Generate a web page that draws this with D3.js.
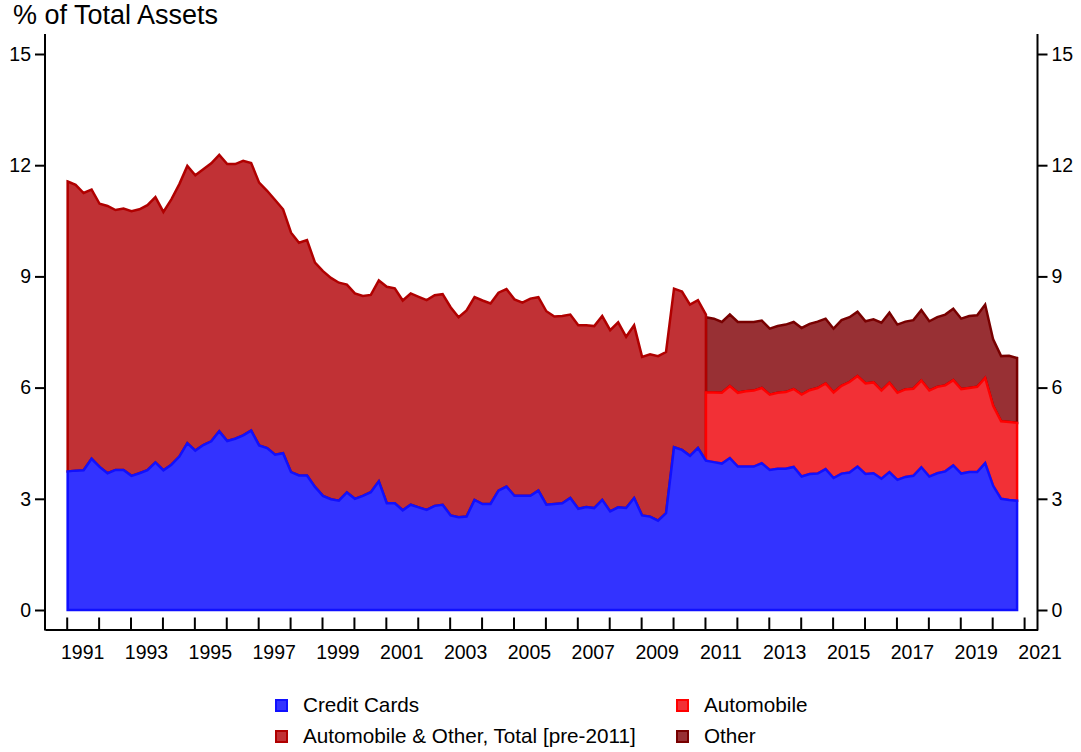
<!DOCTYPE html>
<meta charset="utf-8">
<style>
body { margin: 0; background: #fff; }
text { font-family: "Liberation Sans", Arial, sans-serif; fill: #000; }
</style>
<body>
<script src="https://cdn.jsdelivr.net/npm/d3@7/dist/d3.min.js"></script>
<script>

var width = 1081,
    height = 752;

// quarterly, from 1991Q1; pre-2011 total runs to the split, the breakdown starts at it
var firstYear = 1991,
    splitAt = 80;

var creditCards = [
  3.74, 3.76, 3.77, 4.08, 3.86, 3.69, 3.78, 3.78, 3.62, 3.69, 3.77, 3.98, 3.77, 3.92, 4.14, 4.50,
  4.30, 4.45, 4.55, 4.82, 4.56, 4.62, 4.71, 4.84, 4.44, 4.37, 4.19, 4.23, 3.72, 3.63, 3.63, 3.32,
  3.08, 2.99, 2.95, 3.17, 3.00, 3.08, 3.18, 3.47, 2.88, 2.88, 2.69, 2.84, 2.77, 2.70, 2.81, 2.84,
  2.55, 2.50, 2.52, 2.97, 2.86, 2.86, 3.22, 3.33, 3.08, 3.08, 3.08, 3.22, 2.84, 2.86, 2.88, 3.02,
  2.73, 2.78, 2.75, 2.97, 2.66, 2.77, 2.75, 3.02, 2.55, 2.52, 2.41, 2.61, 4.39, 4.32, 4.16, 4.37,
  4.03, 3.99, 3.95, 4.10, 3.87, 3.87, 3.87, 3.96, 3.78, 3.81, 3.81, 3.86, 3.60, 3.67, 3.68, 3.80,
  3.56, 3.68, 3.71, 3.87, 3.67, 3.69, 3.54, 3.72, 3.51, 3.59, 3.62, 3.85, 3.60, 3.69, 3.74, 3.90,
  3.68, 3.72, 3.72, 3.96, 3.35, 3.00, 2.97, 2.95
];

var autoOtherPre = [
  7.82, 7.71, 7.48, 7.26, 7.10, 7.21, 7.01, 7.05, 7.14, 7.12, 7.15, 7.16, 6.97, 7.16, 7.35, 7.48,
  7.43, 7.44, 7.50, 7.46, 7.47, 7.41, 7.41, 7.22, 7.09, 6.94, 6.87, 6.58, 6.46, 6.28, 6.35, 6.05,
  6.06, 5.97, 5.88, 5.61, 5.54, 5.39, 5.32, 5.42, 5.84, 5.80, 5.66, 5.70, 5.68, 5.66, 5.68, 5.68,
  5.62, 5.40, 5.56, 5.47, 5.49, 5.41, 5.34, 5.33, 5.30, 5.21, 5.32, 5.22, 5.22, 5.06, 5.05, 4.95,
  4.95, 4.90, 4.91, 4.96, 4.89, 4.99, 4.62, 4.66, 4.28, 4.38, 4.44, 4.35, 4.28, 4.27, 4.08, 3.99,
  3.94
];

var automobile = [
  1.84, 1.88, 1.91, 1.94, 1.99, 2.03, 2.05, 2.03, 2.03, 2.05, 2.07, 2.10, 2.21, 2.26, 2.31, 2.31,
  2.31, 2.37, 2.44, 2.44, 2.44, 2.45, 2.38, 2.41, 2.35, 2.36, 2.35, 2.34, 2.32, 2.33, 2.32, 2.30,
  2.28, 2.27, 2.30, 2.30, 2.16, 2.09, 2.10, 2.10
];

var other = [
  2.03, 1.99, 1.91, 1.93, 1.91, 1.87, 1.85, 1.82, 1.78, 1.80, 1.82, 1.81, 1.80, 1.79, 1.79, 1.75,
  1.72, 1.77, 1.75, 1.74, 1.68, 1.70, 1.83, 1.89, 1.84, 1.83, 1.85, 1.90, 1.87, 1.88, 1.91, 1.93,
  1.90, 1.94, 1.93, 1.98, 1.79, 1.76, 1.79, 1.75
];

var yTicks = [0, 3, 6, 9, 12, 15],
    yearTicks = d3.range(1991, 2022),
    yearLabels = d3.range(1991, 2022, 2);

var legendItems = [
  {name: "Credit Cards", fill: "#3333ff", stroke: "#1010ff"},
  {name: "Automobile", fill: "#f23036", stroke: "#ff0000"},
  {name: "Automobile & Other, Total [pre-2011]", fill: "#c13135", stroke: "#b00000"},
  {name: "Other", fill: "#983034", stroke: "#780000"}
];

var quarters = creditCards.map((d, i) => (firstYear + Math.floor(i / 4)) + "Q" + (i % 4 + 1));
function qtime(q) { return +q.slice(0, 4) + (+q.slice(5) - 1) / 4 + 0.03; }

var rows = quarters.map((q, i) => ({
  t: qtime(q),
  cc: creditCards[i],
  pre: i <= splitAt ? autoOtherPre[i] : 0,
  auto: i >= splitAt ? automobile[i - splitAt] : 0,
  other: i >= splitAt ? other[i - splitAt] : 0
}));

var x = d3.scaleLinear().domain([1990.32, 2021.42]).range([45, 1037.5]),
    y = d3.scaleLinear().domain([0, 15]).range([610, 54]);

var preStack = d3.stack().keys(["cc", "pre"])(rows.slice(0, splitAt + 1)),
    postStack = d3.stack().keys(["cc", "auto", "other"])(rows.slice(splitAt)),
    ccStack = d3.stack().keys(["cc"])(rows);

var area = d3.area()
    .x(d => x(d.data.t))
    .y0(d => y(d[0]))
    .y1(d => y(d[1]));

var svg = d3.select("body").append("svg")
    .attr("width", width)
    .attr("height", height);

var layers = [
  [postStack[2], legendItems[3]],
  [preStack[1], legendItems[2]],
  [postStack[1], legendItems[1]],
  [ccStack[0], legendItems[0]]
];

svg.append("g").selectAll("path")
  .data(layers)
  .enter().append("path")
    .attr("d", d => area(d[0]) + "Z")
    .attr("fill", d => d[1].fill)
    .attr("stroke", d => d[1].stroke)
    .attr("stroke-width", 2.5)
    .attr("stroke-linejoin", "miter");

// axes
var axisG = svg.append("g");

axisG.append("g")
    .attr("transform", "translate(45,0)")
    .call(d3.axisLeft(y).tickValues(yTicks).tickSize(10).tickPadding(4))
    .call(g => g.select(".domain").remove());

axisG.append("g")
    .attr("transform", "translate(1037.5,0)")
    .call(d3.axisRight(y).tickValues(yTicks).tickSize(10).tickPadding(4))
    .call(g => g.select(".domain").remove());

axisG.append("g")
    .attr("transform", "translate(0,629.5)")
    .call(d3.axisBottom(x).tickValues(yearTicks).tickSize(-12).tickSizeOuter(0).tickFormat(""));

axisG.selectAll("line, path").attr("stroke", "#000").attr("stroke-width", 2);
axisG.selectAll(".tick text").attr("font-size", 19.5).attr("font-family", "Liberation Sans, Arial, sans-serif");

axisG.append("line").attr("x1", 45).attr("x2", 45).attr("y1", 34).attr("y2", 630.5)
    .attr("stroke", "#000").attr("stroke-width", 2);
axisG.append("line").attr("x1", 1037.5).attr("x2", 1037.5).attr("y1", 34).attr("y2", 630.5)
    .attr("stroke", "#000").attr("stroke-width", 2);

svg.append("g").selectAll("text")
  .data(yearLabels)
  .enter().append("text")
    .attr("x", d => x(d + 0.5))
    .attr("y", 659)
    .attr("text-anchor", "middle")
    .attr("font-size", 19.5)
    .text(d => d);

svg.append("text")
    .attr("x", 13)
    .attr("y", 24)
    .attr("font-size", 27)
    .text("% of Total Assets");

// legend, two columns
var legend = svg.append("g").selectAll("g")
  .data(legendItems)
  .enter().append("g")
    .attr("transform", (d, i) => "translate(" + (i % 2 ? 676 : 275) + "," + (i < 2 ? 699 : 730) + ")");

legend.append("rect")
    .attr("x", 1).attr("y", 1)
    .attr("width", 11).attr("height", 11)
    .attr("fill", d => d.fill)
    .attr("stroke", d => d.stroke)
    .attr("stroke-width", 2);

legend.append("text")
    .attr("x", 28)
    .attr("y", 13)
    .attr("font-size", 20.7)
    .text(d => d.name);

</script>
